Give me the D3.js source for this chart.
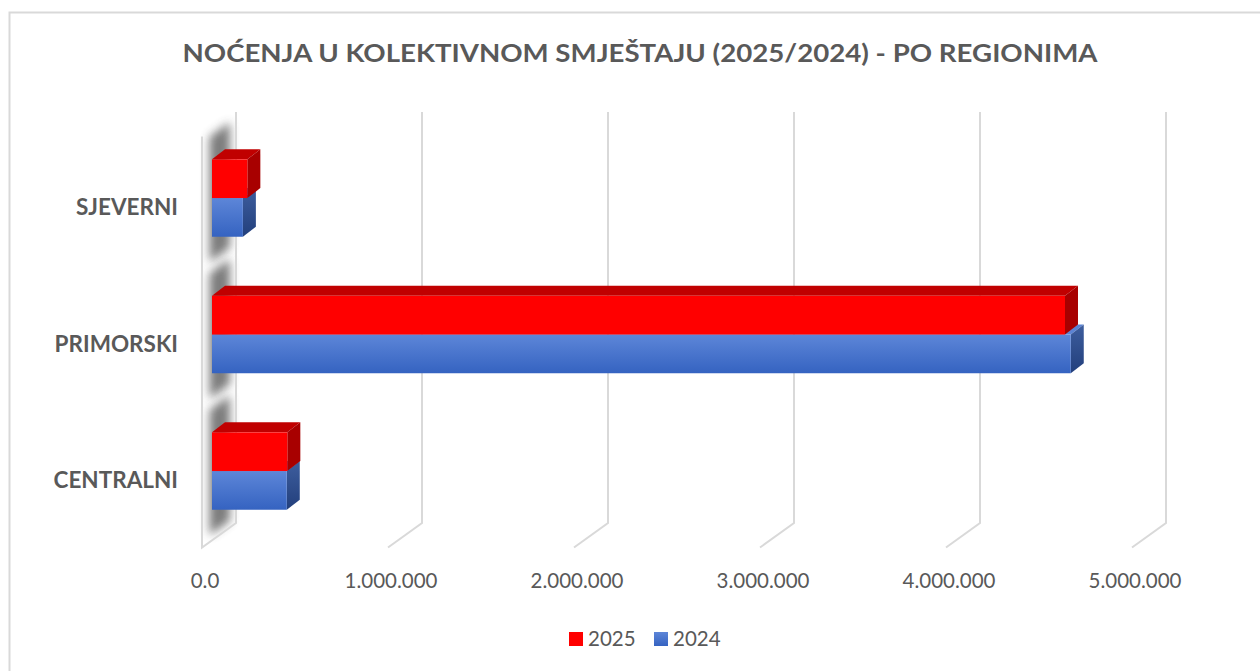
<!DOCTYPE html>
<html>
<head>
<meta charset="utf-8">
<script src="https://cdn.jsdelivr.net/npm/d3@7"></script>
<style>
  body { margin: 0; background: #fff; }
  text { font-family: Lato, "Open Sans", sans-serif; fill: #595959; }
</style>
</head>
<body>
<svg id="chart" width="1260" height="671"></svg>
<script>
// ---- data ----
var regions = ["SJEVERNI", "PRIMORSKI", "CENTRALNI"];
var seriesNames = ["2025", "2024"];
var values2025 = [190000, 4586000, 405000];
var values2024 = [166000, 4617000, 402000];
var tickValues = [0, 1000000, 2000000, 3000000, 4000000, 5000000];
var tickLabels = ["0.0", "1.000.000", "2.000.000", "3.000.000", "4.000.000", "5.000.000"];
var title = "NOĆENJA U KOLEKTIVNOM SMJEŠTAJU (2025/2024) - PO REGIONIMA";

var svg = d3.select("#chart");
var defs = svg.append("defs");

// gradients for the blue bars
var gBlue = defs.append("linearGradient").attr("id", "blueFront").attr("x1", 0).attr("y1", 0).attr("x2", 0).attr("y2", 1);
gBlue.append("stop").attr("offset", "0%").attr("stop-color", "#5D86D8");
gBlue.append("stop").attr("offset", "100%").attr("stop-color", "#3563C1");
var gBlueSide = defs.append("linearGradient").attr("id", "blueSide").attr("x1", 0).attr("y1", 0).attr("x2", 0).attr("y2", 1);
gBlueSide.append("stop").attr("offset", "0%").attr("stop-color", "#3E5E9E");
gBlueSide.append("stop").attr("offset", "100%").attr("stop-color", "#223F7C");
var blur = defs.append("filter").attr("id", "soft").attr("x", "-50%").attr("y", "-50%").attr("width", "200%").attr("height", "200%");
blur.append("feGaussianBlur").attr("stdDeviation", 5);

// outer border
svg.append("rect").attr("x", 9.5).attr("y", 12.5).attr("width", 1300).attr("height", 700)
  .attr("fill", "none").attr("stroke", "#d9d9d9").attr("stroke-width", 2);

// title
svg.append("text").attr("x", 640).attr("y", 62).attr("text-anchor", "middle")
  .attr("font-size", 25).attr("font-weight", "bold")
  .attr("textLength", 915).attr("lengthAdjust", "spacingAndGlyphs")
  .text(title);

// ---- scales ----
// x for the front face of the bars
var x = d3.scaleLinear().domain([0, 5000000]).range([212, 1142]);
var y = d3.scaleBand().domain(regions).range([129.8, 539.3]).paddingInner(0.433).paddingOuter(0.2165);
var ys = d3.scaleBand().domain(seriesNames).range([0, y.bandwidth()]);

// 3d offsets
var wallDx = 34, wallDy = -24.5;   // full floor depth
var barDx = 13, barDy = -10;       // bar depth
var frontShift = -10;              // bar front plane vs floor front (x)
var backBottom = 523, backTop = 112;

// shadows on the wall (behind the wall outline)
regions.forEach(function(r) {
  var t0 = 0.22, t1 = 0.82;
  var top = y(r) - 24 + 7, bot = y(r) + y.bandwidth() + 24 + 7;
  var x0 = x(0) + frontShift;
  var p = [
    [x0 + wallDx * t0, top + wallDy * t0],
    [x0 + wallDx * t1, top + wallDy * t1],
    [x0 + wallDx * t1, bot + wallDy * t1],
    [x0 + wallDx * t0, bot + wallDy * t0]
  ];
  svg.append("path").attr("d", "M" + p.join("L") + "Z")
    .attr("fill", "#444").attr("opacity", 0.7).attr("filter", "url(#soft)");
});

// left wall outline and gridlines
var grid = svg.append("g").attr("fill", "none").attr("stroke", "#d9d9d9").attr("stroke-width", 2);
grid.append("path").attr("d",
  "M" + (x(0) + frontShift) + "," + (backTop - wallDy) +
  "L" + (x(0) + frontShift) + "," + (backBottom - wallDy) +
  "L" + (x(0) + frontShift + wallDx) + "," + backBottom +
  "L" + (x(0) + frontShift + wallDx) + "," + backTop);
tickValues.slice(1).forEach(function(v) {
  var bx = x(v) + frontShift + wallDx;
  grid.append("path").attr("d",
    "M" + bx + "," + backTop + "L" + bx + "," + backBottom +
    "L" + (bx - wallDx) + "," + (backBottom - wallDy));
});

// ---- bars ----
var barData = [];
regions.forEach(function(r, i) {
  barData.push({ region: r, series: "2024", value: values2024[i], front: "url(#blueFront)", top: "#5B83D3", side: "url(#blueSide)" });
  barData.push({ region: r, series: "2025", value: values2025[i], front: "#FF0000", top: "#C00000", side: "#A80000" });
});

var bars = svg.append("g").selectAll("g").data(barData).join("g");
bars.each(function(d) {
  var g = d3.select(this);
  var x0 = x(0), x1 = x(d.value);
  var y0 = y(d.region) + ys(d.series), y1 = y0 + ys.bandwidth();
  // top face
  g.append("path").attr("d",
    "M" + x0 + "," + y0 + "L" + (x0 + barDx) + "," + (y0 + barDy) +
    "L" + (x1 + barDx) + "," + (y0 + barDy) + "L" + x1 + "," + y0 + "Z")
    .attr("fill", d.top);
  // right face
  g.append("path").attr("d",
    "M" + x1 + "," + y0 + "L" + (x1 + barDx) + "," + (y0 + barDy) +
    "L" + (x1 + barDx) + "," + (y1 + barDy) + "L" + x1 + "," + y1 + "Z")
    .attr("fill", d.side);
  // front face
  g.append("rect").attr("x", x0).attr("y", y0).attr("width", x1 - x0).attr("height", y1 - y0)
    .attr("fill", d.front);
});

// category labels
svg.append("g").selectAll("text").data(regions).join("text")
  .attr("x", 178).attr("y", function(d) { return y(d) + y.bandwidth() / 2 + 10 + 7; })
  .attr("text-anchor", "end").attr("font-size", 22.5).attr("font-weight", "bold")
  .text(function(d) { return d; });

// value axis labels
svg.append("g").selectAll("text").data(tickValues).join("text")
  .attr("x", function(d) { return x(d) + frontShift + 3; }).attr("y", 588)
  .attr("text-anchor", "middle").attr("font-size", 20.5)
  .text(function(d, i) { return tickLabels[i]; });

// legend
var legendColors = ["#FF0000", "url(#blueFront)"];
var lg = svg.append("g").selectAll("g").data(seriesNames).join("g")
  .attr("transform", function(d, i) { return "translate(" + (569 + i * 85) + ",632)"; });
lg.append("rect").attr("width", 14).attr("height", 14).attr("fill", function(d, i) { return legendColors[i]; });
lg.append("text").attr("x", 19).attr("y", 14).attr("font-size", 20.5).text(function(d) { return d; });
</script>
</body>
</html>
